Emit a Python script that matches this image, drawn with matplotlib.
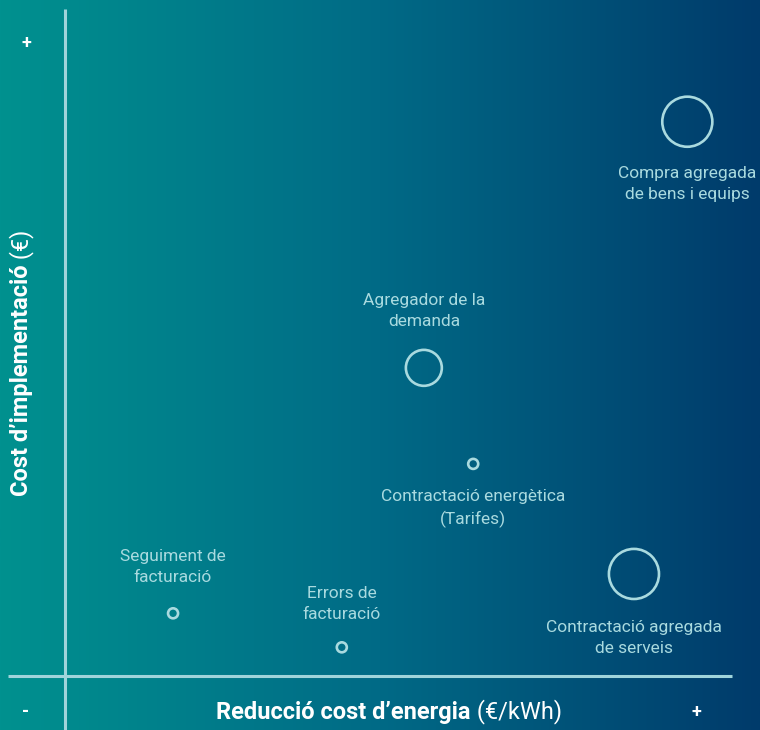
import numpy as np
import matplotlib.pyplot as plt
from matplotlib.colors import LinearSegmentedColormap

# Data: position on the two axes (0-10 scale) and bubble size class
names = ["Compra agregada\nde bens i equips",
         "Agregador de la\ndemanda",
         "Contractació energètica\n(Tarifes)",
         "Contractació agregada\nde serveis",
         "Seguiment de\nfacturació",
         "Errors de\nfacturació"]
reduccio = [9.33, 5.38, 6.12, 8.53, 1.62, 4.15]
cost = [8.31, 4.62, 3.18, 1.53, 0.94, 0.43]
mida = [3, 2, 1, 3, 1, 1]

# label offsets (points) relative to the bubble
label_dy = [-45, 41, -32, -46, 33, 31]

size_map = {1: 52, 2: 670, 3: 1300}
font = ['Roboto', 'DejaVu Sans']
label_color = '#a9dadf'
line_color = '#9fd4db'

fig = plt.figure(figsize=(7.6, 7.3), dpi=100)

# gradient background
bg = fig.add_axes([0, 0, 1, 1])
cmap = LinearSegmentedColormap.from_list('bg', ['#00918f', '#006a86', '#003b6b'])
bg.imshow(np.linspace(0, 1, 256).reshape(1, -1), aspect='auto', cmap=cmap,
          extent=[0, 1, 0, 1])
bg.set_xlim(0, 1)
bg.set_ylim(0, 1)
bg.axis('off')

# axis lines (in figure fraction)
W, H = 760, 730
bg.plot([8 / W, 732 / W], [1 - 676 / H, 1 - 676 / H], color=line_color, lw=2.2,
        solid_capstyle='butt')
bg.plot([65 / W, 65 / W], [0, 1 - 9 / H], color=line_color, lw=2.2,
        solid_capstyle='butt')

ax = fig.add_axes([65 / W, 1 - 676 / H, (732 - 65) / W, (676 - 9) / H])
ax.set_xlim(0, 10)
ax.set_ylim(0, 10)
ax.axis('off')
ax.patch.set_alpha(0)

ax.scatter(reduccio, cost, s=[size_map[m] for m in mida], facecolors='none',
           edgecolors=label_color, linewidths=1.9, zorder=3)

for n, x, y, dy in zip(names, reduccio, cost, label_dy):
    ax.annotate(n, (x, y), xytext=(0, dy), textcoords='offset points',
                ha='center', va='center', fontsize=12.5, color=label_color,
                family=font, fontweight='normal', linespacing=1.5)

# plus / minus marks
fig.text(26 / W, 1 - 43 / H, '+', color='white', fontsize=13, fontweight='bold',
         ha='center', va='center', family=font)
fig.text(26 / W, 1 - 712 / H, '-', color='white', fontsize=13, fontweight='bold',
         ha='center', va='center', family=font)
fig.text(696 / W, 1 - 712 / H, '+', color='white', fontsize=13, fontweight='bold',
         ha='center', va='center', family=font)

# axis titles: bold part + regular part
fig.canvas.draw()
r = fig.canvas.get_renderer()
t1 = fig.text(0, 0, "Reducció cost d’energia", color='white', fontsize=17,
              fontweight='bold', family=font, ha='left', va='center')
t2 = fig.text(0, 0, " (€/kWh)", color='white', fontsize=17, family=font,
              ha='left', va='center')
w1 = t1.get_window_extent(r).width
w2 = t2.get_window_extent(r).width
x0 = 389 - (w1 + w2) / 2
t1.set_position((x0 / W, 1 - 712 / H))
t2.set_position(((x0 + w1) / W, 1 - 712 / H))

t3 = fig.text(0, 0, "Cost d’implementació", color='white', fontsize=17,
              fontweight='bold', family=font, ha='center', va='bottom',
              rotation=90)
t4 = fig.text(0, 0, " (€)", color='white', fontsize=17, family=font,
              ha='center', va='bottom', rotation=90)
h3 = t3.get_window_extent(r).height
h4 = t4.get_window_extent(r).height
t3.set_position((22 / W, (H - 363 - (h3 + h4) / 2) / H))
t4.set_position((22 / W, (H - 363 - (h3 + h4) / 2 + h3) / H))

fig.savefig('out.png', dpi=100)
